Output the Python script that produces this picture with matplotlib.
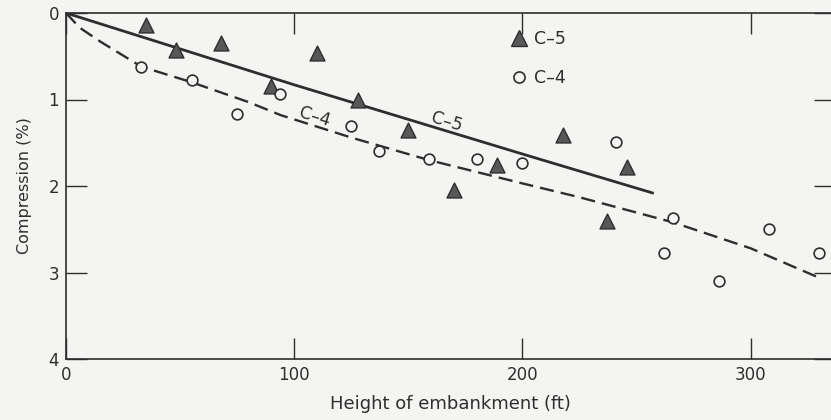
import numpy as np
import matplotlib.pyplot as plt
from matplotlib.lines import Line2D

# Police générale (proche du rendu de la figure scannée)
plt.rcParams['font.family'] = ['DejaVu Sans']

# Données
# C-5 : triangles
h_c5 = [35, 48, 68, 90, 110, 128, 150, 170, 189, 218, 237, 246]
comp_c5 = [0.14, 0.43, 0.35, 0.84, 0.46, 1.00, 1.35, 2.05, 1.76, 1.41, 2.40, 1.78]

# C-4 : cercles
h_c4 = [33, 55, 75, 94, 125, 137, 159, 180, 200, 241, 262, 266, 286, 308, 330]
comp_c4 = [0.63, 0.77, 1.17, 0.94, 1.31, 1.60, 1.69, 1.69, 1.73, 1.49, 2.77, 2.37, 3.10, 2.50, 2.77]

# Courbes moyennes tracées à la main
ligne_c5_x = [0, 100, 200, 257]
ligne_c5_y = [0, 0.83, 1.63, 2.08]
ligne_c4_x = [0, 6, 15, 33, 55, 80, 94, 125, 159, 200, 225, 266, 300, 330]
ligne_c4_y = [0, 0.17, 0.33, 0.62, 0.80, 1.03, 1.18, 1.44, 1.70, 1.97, 2.13, 2.42, 2.72, 3.06]

x_ticks = [0, 100, 200, 300]
y_ticks = [0, 1, 2, 3, 4]

fond = '#f4f4f2'
encre = '#2e2e2e'
gris = '#585858'

fig = plt.figure(figsize=(8.31, 4.2), dpi=100, facecolor=fond)
ax = fig.add_axes([66 / 831, 1 - 359 / 420, (835 - 66) / 831, 346 / 420])
ax.set_facecolor(fond)

# Courbes
ax.plot(ligne_c5_x, ligne_c5_y, '-', color=encre, lw=2.0)
ax.plot(ligne_c4_x, ligne_c4_y, '--', color=encre, lw=1.7, dashes=(6, 3))

# Points
ax.scatter(h_c5, comp_c5, marker='^', s=115, facecolor=gris, edgecolor=encre, linewidth=1.0, zorder=3)
ax.scatter(h_c4, comp_c4, marker='o', s=60, facecolor=fond, edgecolor=encre, linewidth=1.2, zorder=3)

# Étiquettes sur les courbes
ax.text(109, 1.2, 'C\u20134', rotation=-17, fontsize=12.5, color=encre, ha='center', va='center')
ax.text(167, 1.26, 'C\u20135', rotation=-17, fontsize=12.5, color=encre, ha='center', va='center')

# Légende
handles = [
    Line2D([], [], marker='^', ls='none', markersize=11, markerfacecolor=gris, markeredgecolor=encre),
    Line2D([], [], marker='o', ls='none', markersize=8, markerfacecolor='none', markeredgecolor=encre,
           markeredgewidth=1.2),
]
leg = ax.legend(handles, ['C\u20135', 'C\u20134'], loc='upper left', bbox_to_anchor=(0.555, 0.995),
                frameon=False, fontsize=12.5, handletextpad=0.3, labelspacing=1.2, handlelength=1.2)
for t in leg.get_texts():
    t.set_color(encre)

# Axes
ax.set_xlim(0, 337)
ax.set_ylim(4, 0)
ax.set_xticks(x_ticks)
ax.set_yticks(y_ticks)
ax.tick_params(direction='in', length=15, width=1.0, color=encre, labelcolor=encre,
               labelsize=12, top=True, right=True, pad=5)
for s in ax.spines.values():
    s.set_color(encre)
    s.set_linewidth(1.2)

ax.set_xlabel('Height of embankment (ft)', fontsize=13, color=encre, labelpad=8)
ax.set_ylabel('Compression (%)', fontsize=11.5, color=encre, labelpad=12)

fig.savefig('out.png', dpi=100, facecolor=fond)
